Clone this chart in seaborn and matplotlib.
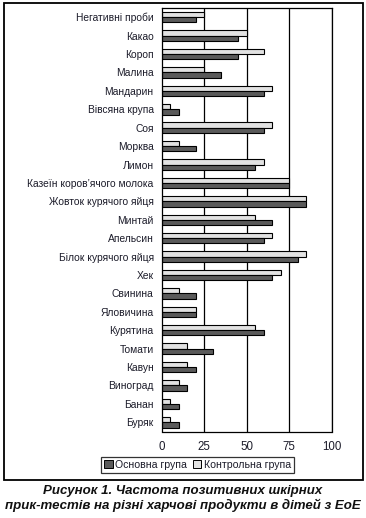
import matplotlib
matplotlib.use('Agg')
import matplotlib.pyplot as plt
from matplotlib.patches import Rectangle, Patch
from matplotlib.ticker import FixedLocator
import numpy as np
import pandas as pd
import seaborn as sns

products = ['Негативні проби', 'Какао', 'Короп', 'Малина', 'Мандарин',
            'Вівсяна крупа', 'Соя', 'Морква', 'Лимон',
            'Казеїн коров’ячого молока', 'Жовток курячого яйця', 'Минтай',
            'Апельсин', 'Білок курячого яйця', 'Хек', 'Свинина', 'Яловичина',
            'Курятина', 'Томати', 'Кавун', 'Виноград', 'Банан', 'Буряк']
main_group = [20, 45, 45, 35, 60, 10, 60, 20, 55, 75, 85, 65, 60, 80, 65,
              20, 20, 60, 30, 20, 15, 10, 10]
control_group = [25, 50, 60, 25, 65, 5, 65, 10, 60, 75, 85, 55, 65, 85, 70,
                 10, 20, 55, 15, 15, 10, 5, 5]
groups = ['Основна група', 'Контрольна група']
x_ticks = [0, 25, 50, 75, 100]

df = pd.DataFrame({
    'product': products * 2,
    'value': control_group + main_group,
    'group': [groups[1]] * len(products) + [groups[0]] * len(products),
})

sns.set_style('white')
plt.rcParams['font.family'] = ['Liberation Sans', 'DejaVu Sans']

dark = '#5a5a5a'
light = '#e2e2e2'
txt = '#1c1c2a'

fig = plt.figure(figsize=(3.66, 5.18), dpi=100)
ax = fig.add_axes([162 / 366, 1 - 431.5 / 518, 169.5 / 366, 423.5 / 518])

sns.barplot(data=df, y='product', x='value', hue='group', order=products,
            hue_order=[groups[1], groups[0]],
            palette=[light, dark], orient='h', width=0.57,
            edgecolor='black', linewidth=0.8, ax=ax, legend=False)

ax.set_xlim(0, 100)
ax.set_ylim(len(products) - 0.5, -0.5)
ax.set_xlabel('')
ax.set_ylabel('')
ax.set_xticks(x_ticks)
ax.set_xticklabels([str(t) for t in x_ticks], fontsize=8.3, color=txt)
ax.set_yticks(range(len(products)))
ax.set_yticklabels(products, fontsize=7.4, color=txt)
ax.yaxis.set_minor_locator(FixedLocator(np.arange(-0.5, len(products), 1)))
ax.tick_params(axis='y', which='major', length=0, pad=6)
ax.tick_params(axis='y', which='minor', length=3, width=0.9, color='black')
ax.tick_params(axis='x', length=3, width=0.9, color='black', pad=4)
for t in x_ticks[1:]:
    ax.axvline(t, color='black', lw=0.9, zorder=0)
for s in ax.spines.values():
    s.set_visible(True)
    s.set_color('black')
    s.set_linewidth(0.9)

handles = [Patch(facecolor=dark, edgecolor='black', linewidth=0.7),
           Patch(facecolor=light, edgecolor='black', linewidth=0.7)]
leg = fig.legend(handles, groups, loc='center', ncol=2,
                 bbox_to_anchor=(197.5 / 366, 1 - 465 / 518),
                 fontsize=7.6, frameon=True, fancybox=False,
                 handlelength=0.8, handleheight=0.8, handletextpad=0.2,
                 columnspacing=0.6, borderpad=0.3, labelcolor=txt)
leg.get_frame().set_edgecolor('black')
leg.get_frame().set_linewidth(0.9)

fig.patches.append(Rectangle((4 / 366, 1 - 480 / 518), 358.5 / 366, 477 / 518,
                             transform=fig.transFigure, fill=False,
                             edgecolor='black', linewidth=1.3))

fig.text(0.5, 1 - 491 / 518, 'Рисунок 1. Частота позитивних шкірних',
         ha='center', va='center', fontsize=9.5, fontweight='bold',
         fontstyle='italic', color='#111111')
fig.text(0.5, 1 - 505 / 518,
         'прик-тестів на різні харчові продукти в дітей з ЕоЕ',
         ha='center', va='center', fontsize=9.5, fontweight='bold',
         fontstyle='italic', color='#111111')

fig.savefig('out.png', dpi=100)
